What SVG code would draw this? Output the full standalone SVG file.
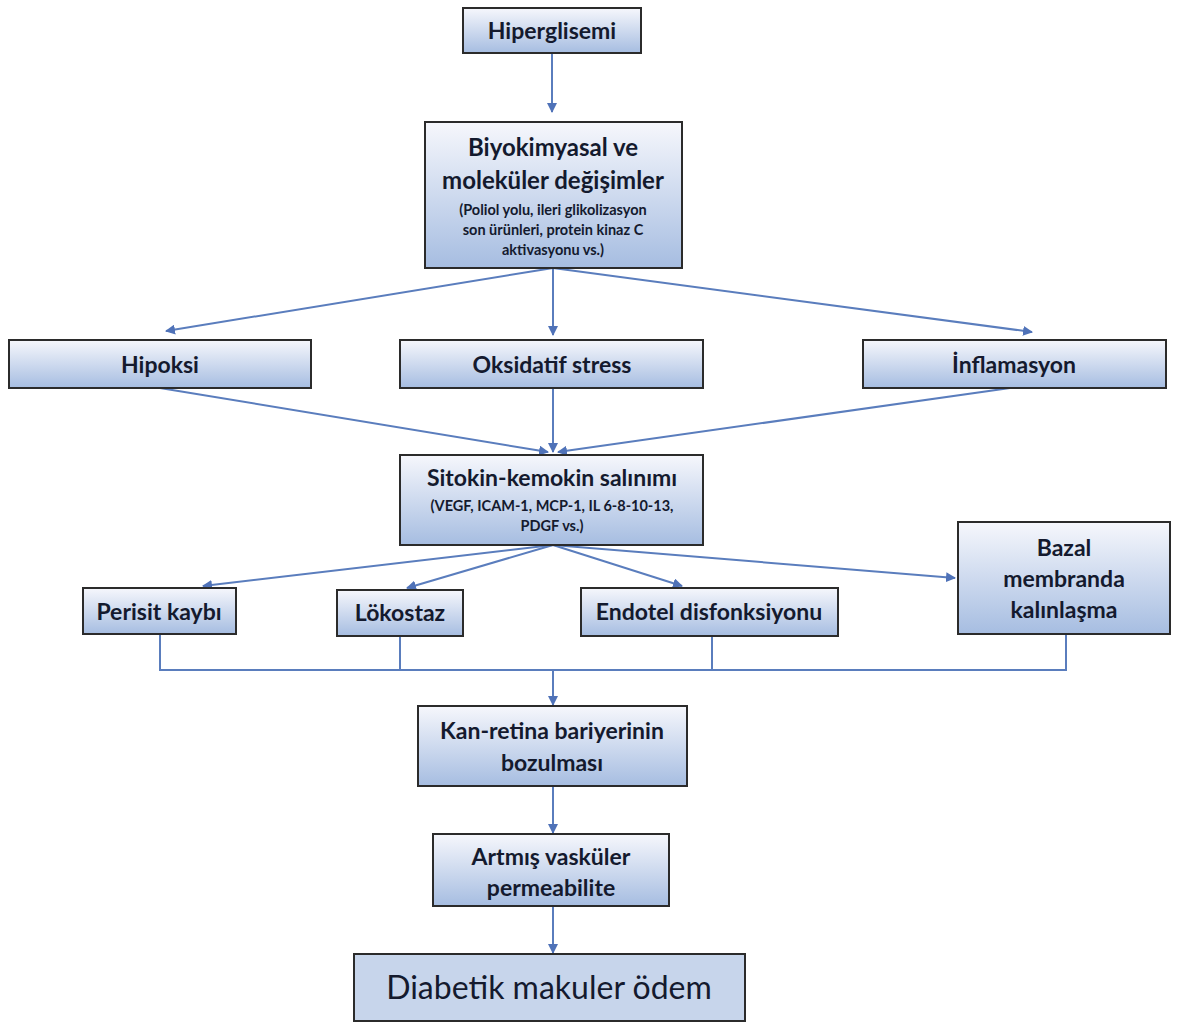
<svg xmlns="http://www.w3.org/2000/svg" width="1190" height="1026" viewBox="0 0 1190 1026">
<style>
.box{fill:url(#g);stroke:#2b2b2b;stroke-width:2}
.t{font-family:Lato,"Open Sans",sans-serif;font-weight:bold;fill:#141a2e;text-anchor:middle;font-size:23px}
.s{font-size:14.5px}
.c{stroke:#5a7dbd;stroke-width:2;fill:none}
.a{stroke:#5a7dbd;stroke-width:2;fill:none;marker-end:url(#m)}
</style>
<defs>
<linearGradient id="g" x1="0" y1="0" x2="0" y2="1">
<stop offset="0" stop-color="#f6f7fc"/>
<stop offset="1" stop-color="#a6bde1"/>
</linearGradient>
<marker id="m" viewBox="0 0 10 10" refX="9" refY="5" markerWidth="5" markerHeight="5" orient="auto" markerUnits="strokeWidth">
<path d="M0,0 L10,5 L0,10 z" fill="#4f72b8"/>
</marker>
</defs>
<rect width="1190" height="1026" fill="#fff"/>
<g id="connectors">
<line class="a" x1="552" y1="53" x2="552" y2="112"/>
<line class="a" x1="553" y1="268" x2="166" y2="331"/>
<line class="a" x1="553" y1="268" x2="553" y2="335"/>
<line class="a" x1="553" y1="268" x2="1032" y2="332"/>
<line class="a" x1="160" y1="388" x2="548" y2="452"/>
<line class="a" x1="553" y1="388" x2="553" y2="452"/>
<line class="a" x1="1010" y1="388" x2="558" y2="452"/>
<line class="a" x1="553" y1="545" x2="203" y2="586"/>
<line class="a" x1="553" y1="545" x2="407" y2="588"/>
<line class="a" x1="553" y1="545" x2="682" y2="586"/>
<line class="a" x1="553" y1="545" x2="955" y2="578"/>
<polyline class="c" points="160,634 160,670 1066,670 1066,634"/>
<line class="c" x1="400" y1="636" x2="400" y2="670"/>
<line class="c" x1="712" y1="636" x2="712" y2="670"/>
<line class="a" x1="553" y1="670" x2="553" y2="705"/>
<line class="a" x1="553" y1="786" x2="553" y2="833"/>
<line class="a" x1="553" y1="906" x2="553" y2="953"/>
</g>
<g id="n-hiperglisemi"><rect class="box" x="463" y="8" width="178" height="45"/><text class="t" x="552" y="39" font-size="22">Hiperglisemi</text></g>
<g id="n-biyokimyasal"><rect class="box" x="425" y="122" width="257" height="146"/>
<text class="t" x="553" y="156" style="font-size:24px">Biyokimyasal ve</text>
<text class="t" x="553" y="189" style="font-size:24px">moleküler değişimler</text>
<text class="t s" x="553" y="215">(Poliol yolu, ileri glikolizasyon</text>
<text class="t s" x="553" y="235">son ürünleri, protein kinaz C</text>
<text class="t s" x="553" y="255">aktivasyonu vs.)</text></g>
<g id="n-hipoksi"><rect class="box" x="9" y="340" width="302" height="48"/><text class="t" x="160" y="373">Hipoksi</text></g>
<g id="n-oksidatif"><rect class="box" x="400" y="340" width="303" height="48"/><text class="t" x="552" y="373">Oksidatif stress</text></g>
<g id="n-inflamasyon"><rect class="box" x="863" y="340" width="303" height="48"/><text class="t" x="1014" y="373">İnflamasyon</text></g>
<g id="n-sitokin"><rect class="box" x="400" y="455" width="303" height="90"/>
<text class="t" x="552" y="486">Sitokin-kemokin salınımı</text>
<text class="t s" x="552" y="511">(VEGF, ICAM-1, MCP-1, IL 6-8-10-13,</text>
<text class="t s" x="552" y="531">PDGF vs.)</text></g>
<g id="n-perisit"><rect class="box" x="83" y="588" width="153" height="46"/><text class="t" x="159" y="620">Perisit kaybı</text></g>
<g id="n-lokostaz"><rect class="box" x="337" y="590" width="126" height="46"/><text class="t" x="400" y="621">Lökostaz</text></g>
<g id="n-endotel"><rect class="box" x="581" y="588" width="257" height="48"/><text class="t" x="709" y="620">Endotel disfonksiyonu</text></g>
<g id="n-bazal"><rect class="box" x="958" y="522" width="212" height="112"/>
<text class="t" x="1064" y="556">Bazal</text>
<text class="t" x="1064" y="587">membranda</text>
<text class="t" x="1064" y="618">kalınlaşma</text></g>
<g id="n-kanretina"><rect class="box" x="418" y="706" width="269" height="80"/>
<text class="t" x="552" y="739">Kan-retina bariyerinin</text>
<text class="t" x="552" y="771">bozulması</text></g>
<g id="n-artmis"><rect class="box" x="433" y="834" width="236" height="72"/>
<text class="t" x="551" y="865">Artmış vasküler</text>
<text class="t" x="551" y="896">permeabilite</text></g>
<g id="n-diabetik"><rect x="354" y="954" width="391" height="67" fill="#c7d5eb" stroke="#2b2b2b" stroke-width="2"/>
<text x="549" y="999" font-family="Lato,'Open Sans',sans-serif" font-size="32" fill="#141a2e" text-anchor="middle">Diabetik makuler ödem</text></g>
</svg>
